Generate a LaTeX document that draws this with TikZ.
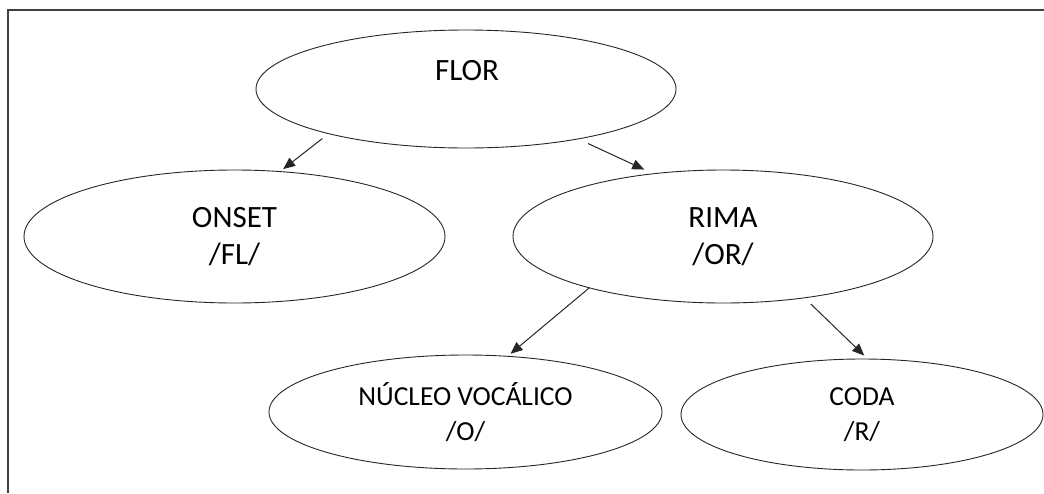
\documentclass[tikz,border=0pt]{standalone}
\usepackage{fontspec}
\setmainfont{Carlito}
\usetikzlibrary{shapes.geometric,arrows.meta}
\tikzset{
  bubble/.style={ellipse, draw=black!85, line width=0.9pt, inner sep=0pt, outer sep=0pt, align=center},
  big/.style={font=\fontsize{31}{37}\selectfont},
  small/.style={font=\fontsize{27.5}{35}\selectfont},
  arr/.style={draw=black!85, line width=1pt, -{Triangle[length=12pt,width=10pt]}},
  frame/.style={draw=black!75, line width=1.5pt}
}
\begin{document}
\begin{tikzpicture}[x=1pt,y=-1pt]
\useasboundingbox (0,0) rectangle (1044,493);
\draw[frame] (8,493) -- (8,10) -- (1044,10);
\node[bubble, minimum width=420pt, minimum height=118pt] (flor) at (466,89) {};
\node[big] (flortext) at (467,71) {FLOR};
\node[bubble, big, minimum width=421pt, minimum height=133pt] (onset) at (234.5,236.5) {ONSET\\/FL/};
\node[bubble, big, minimum width=420pt, minimum height=133pt] (rima) at (723,236.5) {RIMA\\/OR/};
\node[bubble, small, minimum width=393pt, minimum height=114pt] (nucleo) at (465.5,412) {NÚCLEO VOCÁLICO\\/O/};
\node[bubble, small, minimum width=362pt, minimum height=111pt] (coda) at (862,414.5) {CODA\\/R/};
\draw[arr, shorten <=8pt, shorten >=4pt] (flor.198.8) -- (onset.55.6);
\draw[arr, shorten <=11pt, shorten >=10pt] (flor.336.5) -- (rima.138.3);
\draw[arr, shorten >=4pt] (rima.201.3) -- (nucleo.53);
\draw[arr, shorten <=9pt, shorten >=5pt] (rima.323.2) -- (coda.84.3);
\end{tikzpicture}
\end{document}
